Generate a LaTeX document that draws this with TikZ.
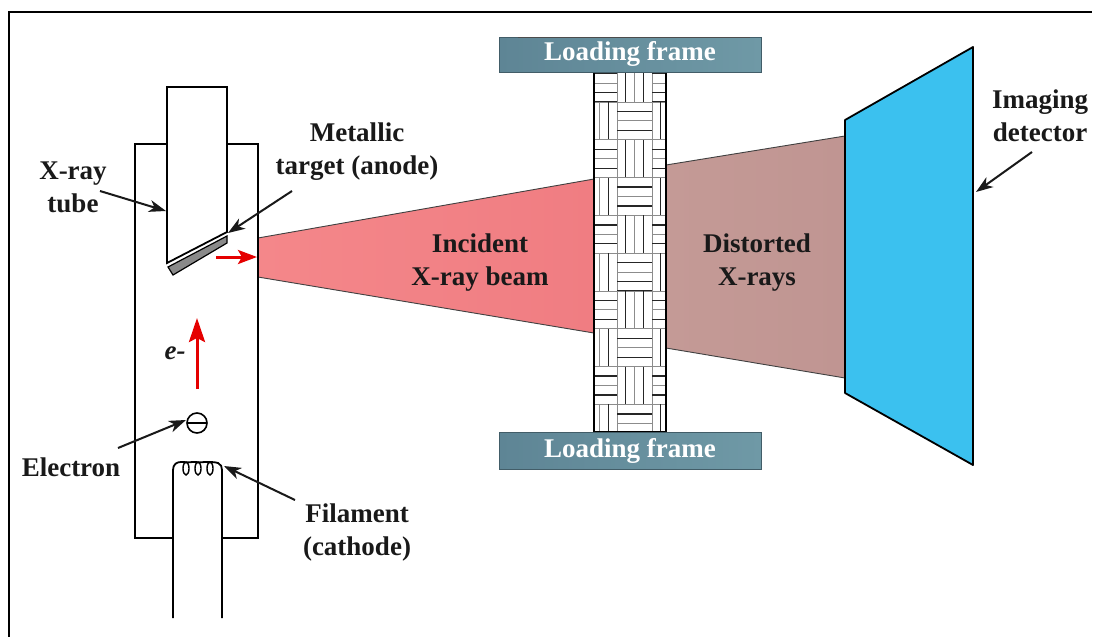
\documentclass[tikz,border=0pt]{standalone}
\usepackage{fontspec}
\setmainfont{Liberation Serif}[BoldFont={Liberation Serif Bold},ItalicFont={Liberation Serif Italic},BoldItalicFont={Liberation Serif Bold Italic}]
\newfontfamily\labelfont{Liberation Serif Bold}
\newfontfamily\labelfontit{Liberation Serif Bold Italic}
\usetikzlibrary{arrows.meta}
\definecolor{beamL}{HTML}{F4878A}
\definecolor{beamR}{HTML}{F07D82}
\definecolor{distL}{HTML}{C49A96}
\definecolor{distR}{HTML}{C09592}
\definecolor{detblue}{HTML}{3BC1EF}
\definecolor{frameL}{HTML}{5E8595}
\definecolor{frameR}{HTML}{6F99A6}
\definecolor{plate}{HTML}{8A8A8A}
\tikzset{
  lbl/.style={font=\labelfont\fontsize{27}{33}\selectfont, text=black!90, align=center, inner sep=0pt},
  framelbl/.style={font=\labelfont\fontsize{27}{33}\selectfont, text=white, inner sep=0pt},
  pointer/.style={line width=2pt, draw=black!90, -{Stealth[length=17pt,width=12pt,inset=5pt]}},
  redarrow/.style={line width=3pt, draw=red!90!black, -{Stealth[length=24pt,width=16pt,inset=4pt]}},
  outline/.style={line width=1.8pt, draw=black},
  edge/.style={line width=0.9pt, draw=black!75},
  cellline/.style={line width=0.9pt, draw=black!45},
  weave/.style={line width=1.3pt, draw=black!85},
  frame/.style={left color=frameL, right color=frameR, draw=frameL!70!black, line width=0.8pt}
}
\begin{document}
\begin{tikzpicture}[x=1pt,y=-1pt]
\useasboundingbox (0,0) rectangle (1094,637);
% outer border (top and left)
\draw[line width=1.2pt] (8,12) -- (1092,12);
\draw[line width=1.2pt] (9,12) -- (9,637);

% incident beam
\shade[left color=beamL, right color=beamR] (258,238) -- (594,179) -- (594,333) -- (258,277) -- cycle;
\draw[edge] (258,238) -- (594,179);
\draw[edge] (258,277) -- (594,333);
% distorted beam
\shade[left color=distL, right color=distR] (666,165) -- (845,136) -- (845,378) -- (666,348) -- cycle;
\draw[edge] (666,165) -- (845,136);
\draw[edge] (666,348) -- (845,378);

% detector
\fill[detblue] (845,120) -- (973,47) -- (973,465) -- (845,393) -- cycle;
\draw[outline, line join=round] (845,120) -- (973,47) -- (973,465) -- (845,393) -- cycle;

% specimen with basket-weave texture
\fill[white] (594,72) rectangle (666,432);
\begin{scope}
\clip (594,72) rectangle (666,432);
\foreach \i in {0,...,3}{
  \foreach \j in {0,...,10}{
    \pgfmathsetmacro{\xa}{582+35*\i}
    \pgfmathsetmacro{\ya}{64.2+37.8*\j}
    \pgfmathtruncatemacro{\oddcell}{mod(\i+\j,2)}
    \draw[cellline] (\xa,\ya) rectangle ++(35,37.8);
    \ifnum\oddcell=0
      \draw[weave] (\xa,\ya+9.45) -- ++(35,0);
      \draw[cellline] (\xa,\ya+18.9) -- ++(35,0);
      \draw[weave] (\xa,\ya+28.35) -- ++(35,0);
      \draw[weave] (\xa,\ya+37.8) -- ++(35,0);
    \else
      \draw[weave] (\xa+8.75,\ya) -- ++(0,37.8);
      \draw[cellline] (\xa+17.5,\ya) -- ++(0,37.8);
      \draw[weave] (\xa+26.25,\ya) -- ++(0,37.8);
    \fi
  }
}
\end{scope}
\draw[line width=2.6pt] (594,72) rectangle (666,432);

% loading frames
\draw[frame] (499,37) rectangle (761,72);
\draw[line width=1.4pt, draw=black!70] (518,37.5) -- (750,37.5);
\node[framelbl] (topframe) at (630,54) {Loading frame};
\draw[frame] (499,432) rectangle (761,469);
\node[framelbl] (botframe) at (630,451) {Loading frame};

% x-ray tube body
\draw[outline] (167,144) -- (135,144) -- (135,538) -- (173,538);
\draw[outline] (222,538) -- (258,538) -- (258,144) -- (227,144);
% anode
\draw[outline, fill=white] (167,87) -- (227,87) -- (227,232) -- (167,263) -- cycle;
% target plate
\draw[line width=1.2pt, fill=plate] (168,267) -- (227,236) -- (227,243) -- (173,275) -- cycle;

% cathode stem and filament coil
\draw[outline] (173,618) -- (173,470) .. controls (173,464) and (177,462) .. (181,462)
  .. controls (187,462) and (189,463) .. (193,462)
  .. controls (199,462) and (201,463) .. (205,462)
  .. controls (211,462) and (215,462) .. (218,463)
  .. controls (221,464) and (222,467) .. (222,470) -- (222,618);
\foreach \cx in {186,198,210}{
  \draw[line width=1.4pt] (\cx,468.5) ellipse [x radius=3, y radius=6.5];
}

% electron
\coordinate (ecenter) at (197,423);
\draw[line width=1.6pt] (ecenter) circle [radius=10];
\draw[line width=1.6pt] (188,423) -- (206,423);
\coordinate (etip) at (186,420);

% electron beam and x-ray emission arrows
\coordinate (estart) at (197,389);
\coordinate (eend) at (197,318);
\draw[redarrow] (estart) -- (eend);
\node[font=\labelfontit\fontsize{27}{33}\selectfont, text=black!90, inner sep=0pt] (elabel) at (175,353) {e-};
\coordinate (xstart) at (216,257);
\coordinate (xend) at (257,257);
\draw[redarrow, -{Stealth[length=19pt,width=14pt,inset=4pt]}] (xstart) -- (xend);

% labels
\node[lbl] (tubelbl) at (73,187) {X-ray\\tube};
\node[lbl] (targetlbl) at (357,152) {Metallic\\target (anode)};
\node[lbl] (incident) at (480,263) {Incident\\X-ray beam};
\node[lbl] (distorted) at (757,263) {Distorted\\X-rays};
\node[lbl] (detlbl) at (1040,116) {Imaging\\detector};
\node[lbl] (electronlbl) at (71,467) {Electron};
\node[lbl] (filamentlbl) at (357,532) {Filament\\(cathode)};

% pointer arrows
\coordinate (tubetail) at (100,191);
\coordinate (tubehead) at (166,211);
\coordinate (targettail) at (292,191);
\coordinate (targethead) at (228,233);
\coordinate (electail) at (118,448);
\coordinate (filtail) at (295,500);
\coordinate (filhead) at (224,466);
\coordinate (dettail) at (1032,152);
\coordinate (dethead) at (976,192);
\draw[pointer] (tubetail) -- (tubehead);
\draw[pointer] (targettail) -- (targethead);
\draw[pointer] (electail) -- (etip);
\draw[pointer] (filtail) -- (filhead);
\draw[pointer] (dettail) -- (dethead);
\end{tikzpicture}
\end{document}
